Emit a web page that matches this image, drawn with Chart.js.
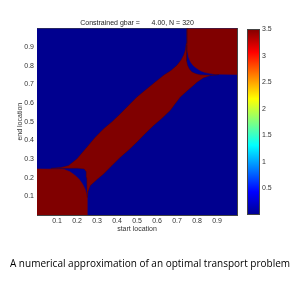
<!DOCTYPE html>
<html>
<head>
<meta charset="utf-8">
<script src="https://cdn.jsdelivr.net/npm/chart.js@4.4.1/dist/chart.umd.min.js"></script>
<style>
  body { margin: 0; background: #fff; width: 300px; height: 281px; position: relative; overflow: hidden; }
  canvas { position: absolute; left: 0; top: 0; }
  #caption { position: absolute; left: 0; top: 256px; width: 300px; text-align: center;
             font: 10px "Open Sans", sans-serif; line-height: 14px; color: #000; }
</style>
</head>
<body>
<canvas id="map" width="300" height="281"></canvas>
<canvas id="bar" width="300" height="281"></canvas>
<div id="caption">A numerical approximation of an optimal transport problem</div>
<script>
// values: (start location, end location) outlines of each region
const titleText = 'Constrained gbar =      4.00, N = 320';
const xTickLabels = ['0.1', '0.2', '0.3', '0.4', '0.5', '0.6', '0.7', '0.8', '0.9'];
const yTickLabels = ['0.1', '0.2', '0.3', '0.4', '0.5', '0.6', '0.7', '0.8', '0.9'];
const colorbarTicks = [0.5, 1, 1.5, 2, 2.5, 3, 3.5];
const colorMax = 3.5;

// jet colormap
const jetStops = [0, 0.125, 0.375, 0.625, 0.875, 1];
const jetColors = [[0, 0, 143], [0, 0, 255], [0, 255, 255], [255, 255, 0], [255, 0, 0], [128, 0, 0]];

const backgroundRegion = [[0, 0], [1, 0], [1, 1], [0, 1], [0, 0]];
const backgroundValue = 0;

const bottomLeftRegion = [[0, 0], [0, 0.247], [0.133, 0.245], [0.165, 0.232], [0.192, 0.211], [0.212, 0.19],
  [0.228, 0.165], [0.24, 0.14], [0.248, 0.113], [0.25, 0.1], [0.25, 0], [0, 0]];
const topRightRegion = [[1, 1], [0.753, 1], [0.753, 0.875], [0.758, 0.845], [0.767, 0.821], [0.782, 0.8],
  [0.8, 0.785], [0.82, 0.772], [0.842, 0.763], [0.883, 0.755], [1, 0.753], [1, 1]];

const bandUpper = [[0.07, 0.251], [0.12, 0.255], [0.158, 0.265], [0.2, 0.301], [0.25, 0.364], [0.29, 0.415],
  [0.333, 0.462], [0.375, 0.5], [0.417, 0.543], [0.46, 0.59], [0.5, 0.633], [0.55, 0.677], [0.59, 0.712],
  [0.633, 0.749], [0.67, 0.775], [0.7, 0.803], [0.72, 0.83], [0.733, 0.857], [0.742, 0.885],
  [0.746, 0.92], [0.749, 1]];
const bandPocketTop = [[0.751, 1], [0.749, 0.91], [0.747, 0.857], [0.749, 0.825], [0.753, 0.803],
  [0.762, 0.782], [0.775, 0.767], [0.795, 0.757], [0.817, 0.751], [0.867, 0.749], [0.91, 0.753]];
const bandLower = [[0.867, 0.747], [0.833, 0.735], [0.8, 0.712], [0.783, 0.695], [0.75, 0.665],
  [0.717, 0.633], [0.69, 0.595], [0.667, 0.561], [0.625, 0.518], [0.583, 0.48], [0.54, 0.435],
  [0.5, 0.391], [0.46, 0.35], [0.417, 0.31], [0.375, 0.265], [0.333, 0.22], [0.3, 0.19],
  [0.267, 0.158], [0.255, 0.125], [0.252, 0.095]];
const bandPocketBottom = [[0.25, 0.113], [0.249, 0.2], [0.246, 0.232], [0.236, 0.247], [0.2, 0.251],
  [0.15, 0.25], [0.1, 0.249], [0.07, 0.249]];
const highValue = 3.5;

function jet(t) {
  t = Math.max(0, Math.min(1, t));
  for (let i = 1; i < jetStops.length; i++) {
    if (t <= jetStops[i]) {
      const f = (t - jetStops[i - 1]) / (jetStops[i] - jetStops[i - 1]);
      const a = jetColors[i - 1], b = jetColors[i];
      return 'rgb(' + a.map((c, k) => Math.round(c + (b[k] - c) * f)).join(',') + ')';
    }
  }
  return 'rgb(' + jetColors[jetColors.length - 1].join(',') + ')';
}

// the background goes underneath, so it gets the highest order
const regions = [
  { points: backgroundRegion, value: backgroundValue, order: 2 },
  { points: bottomLeftRegion, value: highValue, order: 1 },
  { points: topRightRegion, value: highValue, order: 1 },
  { points: bandUpper.concat(bandPocketTop, bandLower, bandPocketBottom), value: highValue, order: 0 }
];

const font = { family: '"Liberation Sans", Arial, sans-serif', size: 7, weight: 'normal' };
const textColor = '#333';

new Chart(document.getElementById('map'), {
  type: 'scatter',
  data: {
    datasets: regions.map(r => ({
      data: r.points.map(p => ({ x: p[0], y: p[1] })),
      order: r.order,
      showLine: true,
      fill: 'shape',
      backgroundColor: jet(r.value / colorMax),
      borderColor: r.order === 0 ? '#4a0010' : jet(r.value / colorMax),
      borderWidth: r.order === 0 ? 0.4 : 0.5,
      pointRadius: 0,
      tension: 0
    }))
  },
  options: {
    responsive: false,
    animation: false,
    layout: { padding: { left: 0, right: 26, top: 0, bottom: 48 } },
    plugins: {
      legend: { display: false },
      tooltip: { enabled: false },
      title: { display: true, text: titleText, font: font, color: '#222', padding: { top: 18.5, bottom: 1.5 } }
    },
    scales: {
      x: {
        type: 'linear', position: 'bottom', min: 0, max: 1,
        afterFit: s => { s.height = 18; },
        grid: { display: false, drawTicks: false },
        border: { display: true, color: '#444' },
        ticks: { stepSize: 0.1, autoSkip: false, maxRotation: 0, font: font, color: textColor, padding: 2,
                 callback: v => xTickLabels.includes(v.toFixed(1)) ? v.toFixed(1) : '' },
        title: { display: true, text: 'start location', font: font, color: textColor, padding: { top: 0, bottom: 0 } }
      },
      y: {
        type: 'linear', position: 'left', min: 0, max: 1,
        afterFit: s => { s.width = 37; },
        grid: { display: false, drawTicks: false },
        border: { display: true, color: '#444' },
        ticks: { stepSize: 0.1, autoSkip: false, font: font, color: textColor, padding: 3,
                 callback: v => yTickLabels.includes(v.toFixed(1)) ? v.toFixed(1) : '' },
        title: { display: true, text: 'end location', font: font, color: textColor, padding: { top: 15.5, bottom: 0 } }
      },
      x2: {
        type: 'linear', axis: 'x', position: 'top', min: 0, max: 1,
        afterFit: s => { s.height = 0; },
        grid: { display: false, drawTicks: false },
        border: { display: true, color: '#444' },
        ticks: { display: false }
      },
      y2: {
        type: 'linear', axis: 'y', position: 'right', min: 0, max: 1,
        afterFit: s => { s.width = 37; },
        grid: { display: false, drawTicks: false },
        border: { display: true, color: '#444' },
        ticks: { display: false }
      }
    }
  }
});

const boxPlugin = {
  id: 'box',
  afterDraw(chart) {
    const a = chart.chartArea, ctx = chart.ctx;
    ctx.save();
    ctx.strokeStyle = '#444';
    ctx.lineWidth = 1;
    ctx.strokeRect(a.left + 0.5, a.top + 0.5, a.right - a.left - 1, a.bottom - a.top - 1);
    ctx.restore();
  }
};

new Chart(document.getElementById('bar'), {
  type: 'bar',
  data: {
    labels: [''],
    datasets: [{
      data: [colorMax],
      barPercentage: 1,
      categoryPercentage: 1,
      borderWidth: 0,
      backgroundColor: c => {
        const a = c.chart.chartArea;
        if (!a) return jet(1);
        const g = c.chart.ctx.createLinearGradient(0, a.bottom, 0, a.top);
        jetStops.forEach(s => g.addColorStop(s, jet(s)));
        return g;
      }
    }]
  },
  options: {
    responsive: false,
    animation: false,
    layout: { padding: { left: 247, right: 0, top: 29, bottom: 66 } },
    plugins: { legend: { display: false }, tooltip: { enabled: false } },
    scales: {
      x: { display: false },
      y: {
        position: 'right', min: 0, max: colorMax,
        afterFit: s => { s.width = 40; },
        grid: { display: false, drawTicks: false },
        border: { display: false },
        ticks: { stepSize: 0.5, font: font, color: textColor, padding: 2,
                 callback: v => colorbarTicks.includes(v) ? String(v) : '' }
      }
    }
  },
  plugins: [boxPlugin]
});
</script>
</body>
</html>
